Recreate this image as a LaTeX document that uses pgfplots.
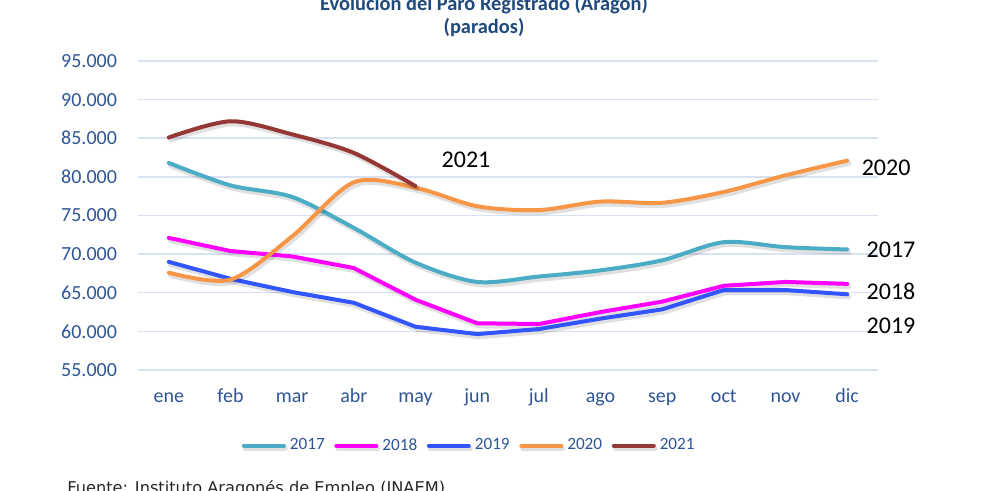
\documentclass[border=0pt]{standalone}
\usepackage{pgfplots}
\pgfplotsset{compat=1.18}
\usepackage{fontspec}
\setmainfont{Carlito}
\newfontfamily\footfont{DejaVu Sans}
\definecolor{c17}{RGB}{75,172,198}
\definecolor{c18}{RGB}{255,0,255}
\definecolor{c19}{RGB}{51,85,255}
\definecolor{c20}{RGB}{247,150,70}
\definecolor{c21}{RGB}{149,55,53}
\definecolor{gridc}{RGB}{217,226,243}
\definecolor{tickc}{RGB}{47,85,151}
\definecolor{titc}{RGB}{31,73,125}
\definecolor{footc}{RGB}{38,38,38}
\begin{document}
\begin{tikzpicture}
\path[use as bounding box] (0,0) rectangle (495pt,245.5pt);
\node[anchor=base, font=\bfseries\fontsize{10.2}{12}\selectfont, text=titc] at (242pt,240.25pt) {Evolución del Paro Registrado (Aragón)};
\node[anchor=base, font=\bfseries\fontsize{10.2}{12}\selectfont, text=titc] at (242pt,228.75pt) {(parados)};
\node[anchor=base west, font=\footfont\fontsize{8.1}{10}\selectfont, text=footc, inner sep=0pt] at (33.5pt,-1.25pt) {Fuente: Instituto Aragonés de Empleo (INAEM)};
\begin{axis}[
  at={(69pt,60.5pt)}, anchor=south west, scale only axis,
  width=370pt, height=154.5pt,
  xmin=-0.5, xmax=11.5, ymin=55000, ymax=95000,
  xtick={0,...,11},
  xticklabels={ene,feb,mar,abr,may,jun,jul,ago,sep,oct,nov,dic},
  ytick={55000,60000,...,95000},
  scaled y ticks=false,
  /pgf/number format/.cd, fixed, precision=0, 1000 sep={.}, assume math mode=true,
  /pgfplots/.cd,
  axis line style={draw=none},
  major tick length=0pt,
  ymajorgrids=true,
  major grid style={color=gridc, line width=0.75pt},
  ticklabel style={font=\fontsize{10}{12}\selectfont, text=tickc},
  yticklabel style={xshift=-7pt},
  xticklabel style={anchor=base, yshift=-16.5pt},
  legend columns=5,
  legend style={at={(axis description cs:0.449,-0.245)}, anchor=center, draw=none, fill=none,
    font=\fontsize{8.6}{10}\selectfont, text=tickc,
    /tikz/every even column/.append style={column sep=2.8pt}},
  legend image code/.code={\draw[#1, line width=2pt, line cap=round] (0pt,0pt) -- (20pt,0pt);},
  every axis plot/.append style={line width=2pt, line join=round, line cap=round,
    preaction={draw=black, draw opacity=0.12, line width=2.4pt, transform canvas={shift={(0.8pt,-1.4pt)}}}},
  clip=false,
]
\addplot[c17, smooth] coordinates {(0,81800) (1,78900) (2,77400) (3,73400) (4,68900) (5,66400) (6,67100) (7,67900) (8,69200) (9,71550) (10,70900) (11,70600)};
\addlegendentry{2017}
\addplot[c18] coordinates {(0,72100) (1,70400) (2,69700) (3,68200) (4,64100) (5,61050) (6,60950) (7,62500) (8,63850) (9,65900) (10,66400) (11,66150)};
\addlegendentry{2018}
\addplot[c19] coordinates {(0,69000) (1,66800) (2,65100) (3,63700) (4,60600) (5,59650) (6,60300) (7,61650) (8,62850) (9,65350) (10,65350) (11,64800)};
\addlegendentry{2019}
\addplot[c20, smooth] coordinates {(0,67600) (1,66700) (2,72300) (3,79300) (4,78600) (5,76200) (6,75700) (7,76800) (8,76650) (9,78050) (10,80200) (11,82100)};
\addlegendentry{2020}
\addplot[c21, smooth] coordinates {(0,85100) (1,87200) (2,85500) (3,83100) (4,78800)};
\addlegendentry{2021}
\node[font=\fontsize{12}{14}\selectfont, anchor=center] at (axis cs:4.82,82180) {2021};
\node[font=\fontsize{12}{14}\selectfont, anchor=west, inner sep=0pt] at (axis cs:11.23,81150) {2020};
\node[font=\fontsize{12}{14}\selectfont, anchor=west, inner sep=0pt] at (axis cs:11.31,70530) {2017};
\node[font=\fontsize{12}{14}\selectfont, anchor=west, inner sep=0pt] at (axis cs:11.31,65230) {2018};
\node[font=\fontsize{12}{14}\selectfont, anchor=west, inner sep=0pt] at (axis cs:11.31,60700) {2019};
\end{axis}
\end{tikzpicture}
\end{document}
